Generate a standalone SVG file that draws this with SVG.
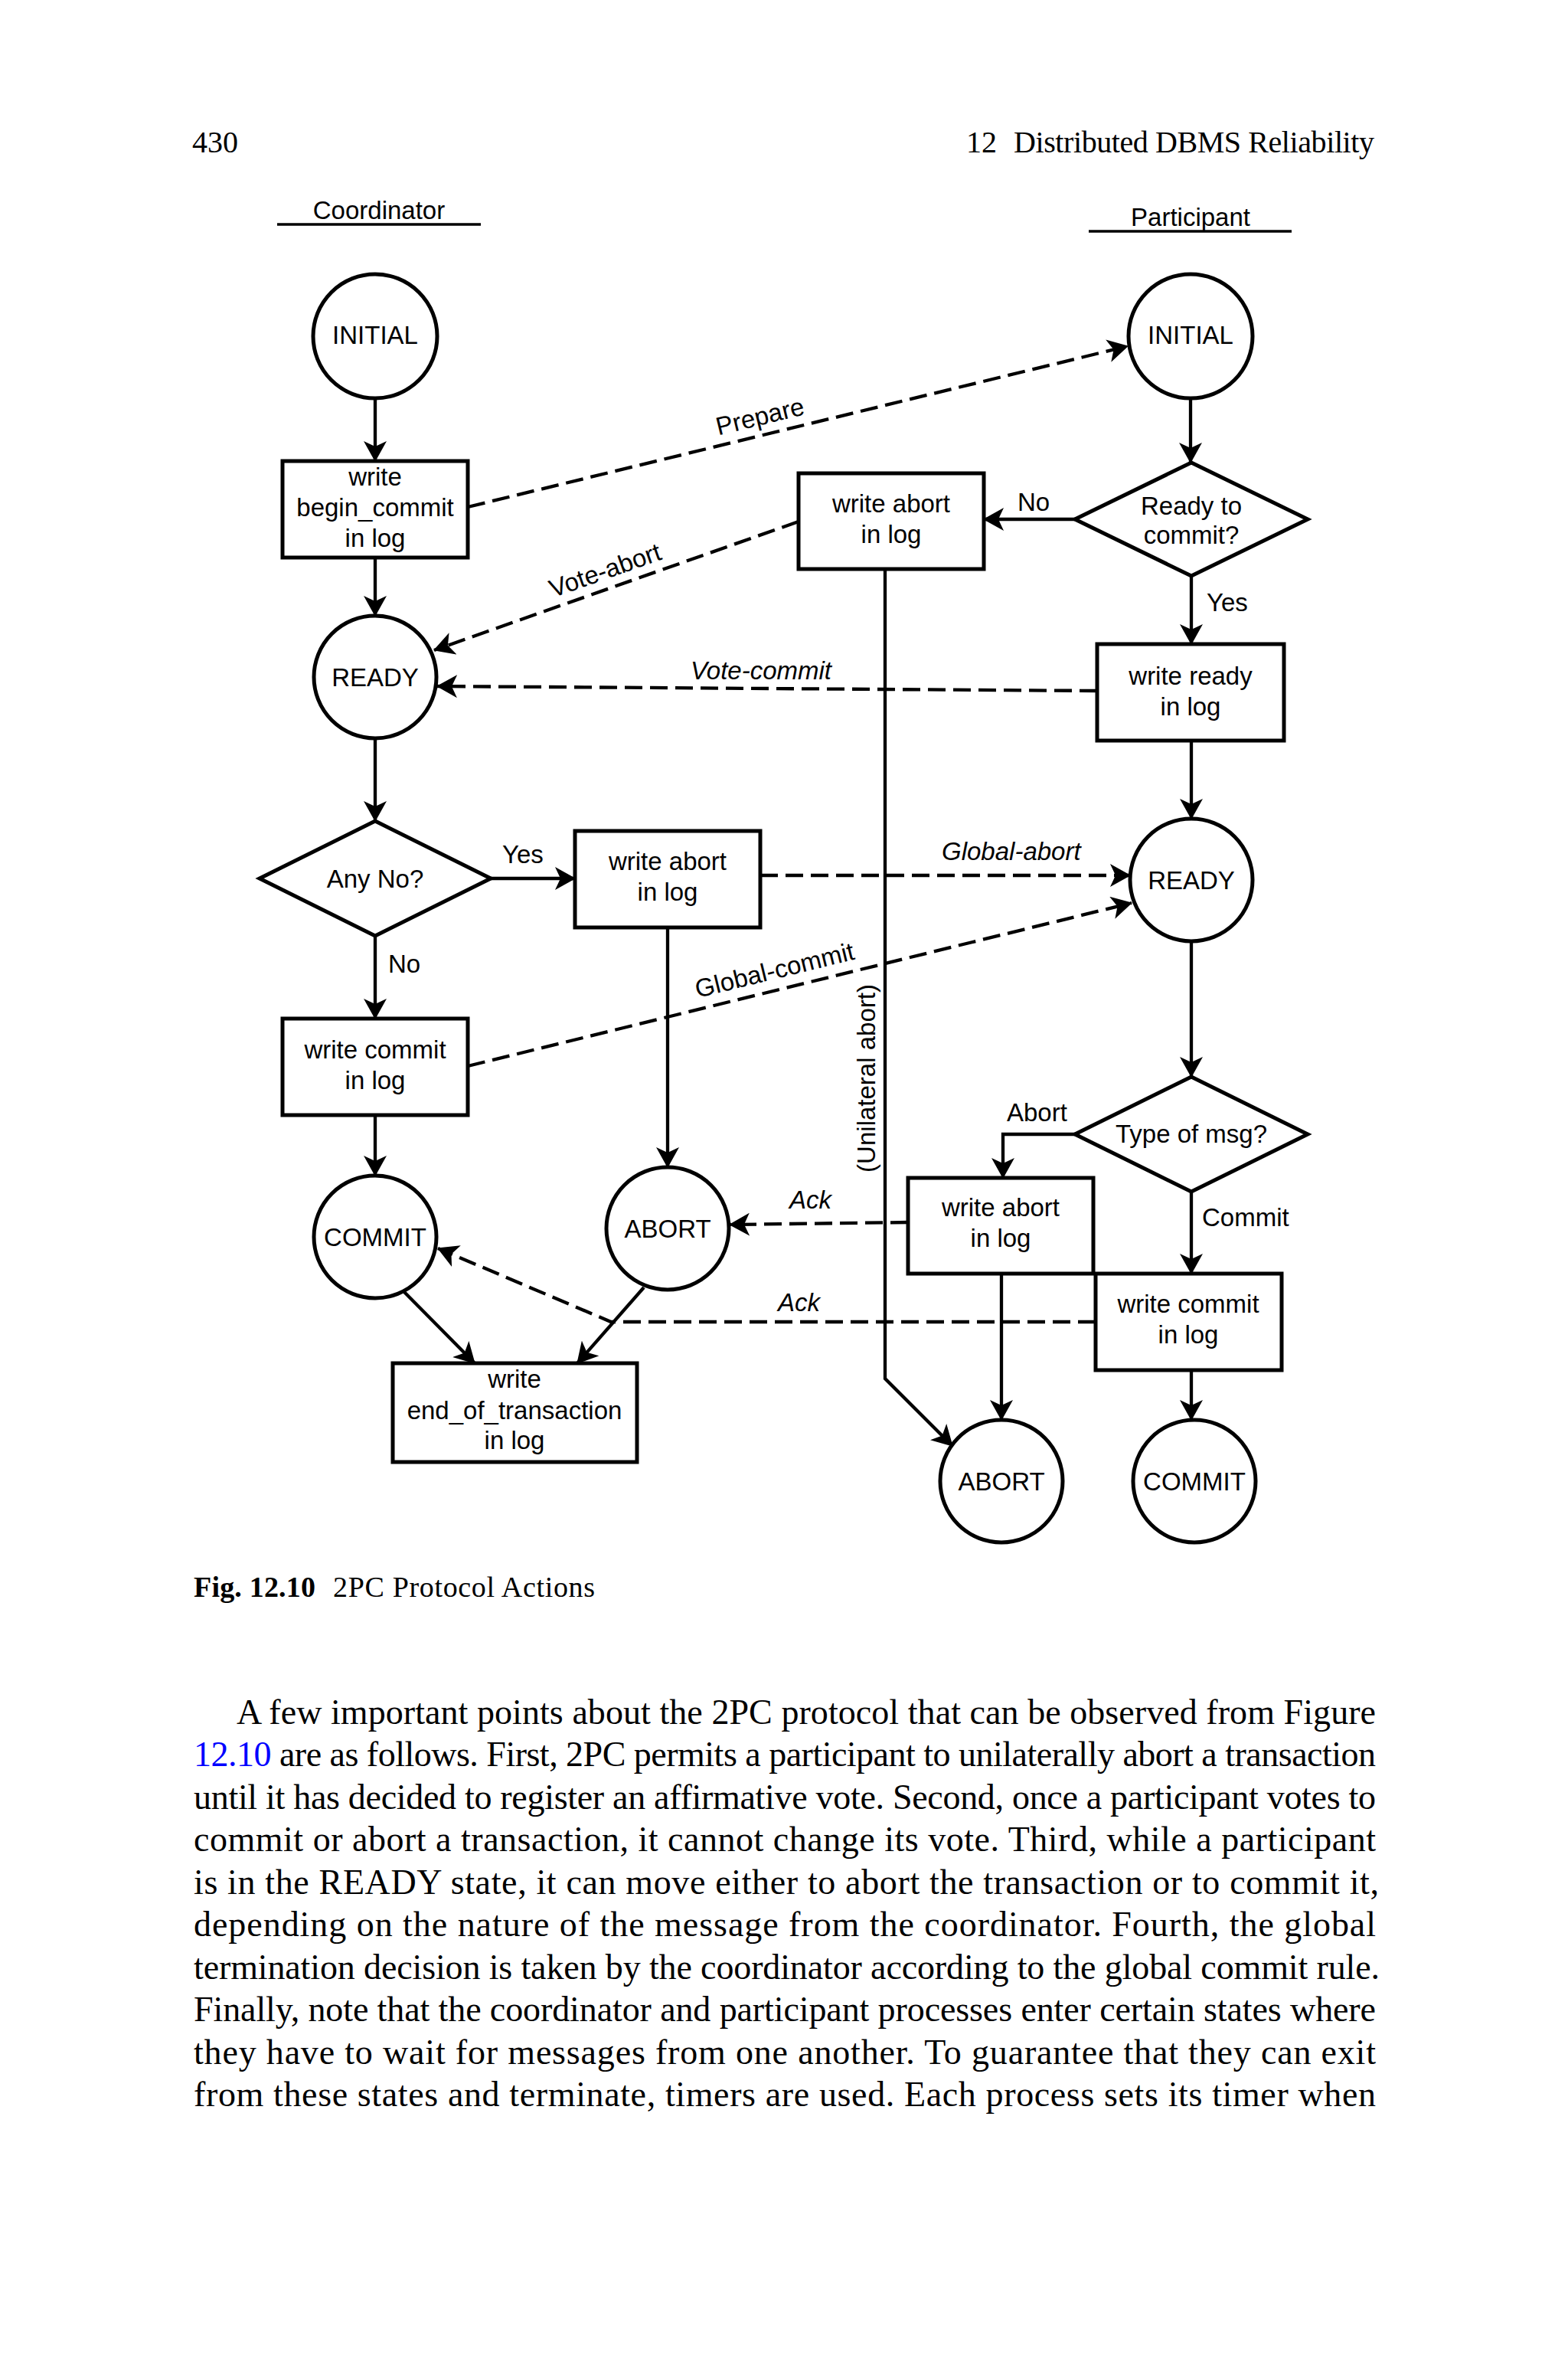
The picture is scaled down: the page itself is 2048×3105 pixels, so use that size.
<svg xmlns="http://www.w3.org/2000/svg" width="2048" height="3105" viewBox="0 0 2048 3105">
<style>
.shape{fill:#fff;stroke:#000;stroke-width:5}
.ln{fill:none;stroke:#000;stroke-width:4.3}
.dash{stroke-dasharray:23 10}
.t{font-family:"Liberation Sans",Arial,sans-serif;font-size:33px;fill:#000;text-anchor:middle}
.s{text-anchor:start}
.i{font-style:italic}
.serif{font-family:"Liberation Serif","Times New Roman",serif;fill:#000}
.body{font-size:46px}
</style>
<defs>
<marker id="ah" viewBox="0 0 27 30" refX="26" refY="15" markerWidth="27" markerHeight="30" markerUnits="userSpaceOnUse" orient="auto">
<path d="M27,15 L0,0 L7,15 L0,30 Z" fill="#000"/>
</marker>
</defs>
<rect width="2048" height="3105" fill="#fff"/>

<g id="page-header" class="serif" font-size="40">
<text x="251" y="199">430</text>
<text x="1262" y="199">12</text>
<text x="1324" y="199" textLength="471" lengthAdjust="spacing">Distributed DBMS Reliability</text>
</g>

<g id="lane-headers">
<text class="t" x="495" y="286">Coordinator</text>
<line x1="362" y1="293" x2="628" y2="293" stroke="#000" stroke-width="3.5"/>
<text class="t" x="1555" y="295">Participant</text>
<line x1="1422" y1="302" x2="1687" y2="302" stroke="#000" stroke-width="3.5"/>
</g>

<g id="n-coord-initial"><circle class="shape" cx="490" cy="439" r="81"/><text class="t" x="490" y="449">INITIAL</text></g>
<g id="n-begin-commit"><rect class="shape" x="369" y="602" width="242" height="126"/><text class="t" x="490" y="634">write</text><text class="t" x="490" y="674">begin_commit</text><text class="t" x="490" y="714">in log</text></g>
<g id="n-coord-ready"><circle class="shape" cx="490" cy="884" r="80"/><text class="t" x="490" y="896">READY</text></g>
<g id="n-any-no"><polygon class="shape" points="490,1072 641,1147 490,1222 339,1147"/><text class="t" x="490" y="1159">Any No?</text></g>
<g id="n-coord-write-abort"><rect class="shape" x="751" y="1085" width="242" height="126"/><text class="t" x="872" y="1136">write abort</text><text class="t" x="872" y="1176">in log</text></g>
<g id="n-coord-write-commit"><rect class="shape" x="369" y="1330" width="242" height="126"/><text class="t" x="490" y="1382">write commit</text><text class="t" x="490" y="1422">in log</text></g>
<g id="n-coord-commit"><circle class="shape" cx="490" cy="1615" r="80"/><text class="t" x="490" y="1627">COMMIT</text></g>
<g id="n-coord-abort"><circle class="shape" cx="872" cy="1604" r="80"/><text class="t" x="872" y="1616">ABORT</text></g>
<g id="n-end-of-transaction"><rect class="shape" x="513" y="1780" width="319" height="129"/><text class="t" x="672" y="1812">write</text><text class="t" x="672" y="1853">end_of_transaction</text><text class="t" x="672" y="1892">in log</text></g>

<g id="n-part-initial"><circle class="shape" cx="1555" cy="439" r="81"/><text class="t" x="1555" y="449">INITIAL</text></g>
<g id="n-ready-to-commit"><polygon class="shape" points="1556,604 1708,678 1556,752 1404,678"/><text class="t" x="1556" y="672">Ready to</text><text class="t" x="1556" y="710">commit?</text></g>
<g id="n-part-write-abort-1"><rect class="shape" x="1043" y="618" width="242" height="125"/><text class="t" x="1164" y="669">write abort</text><text class="t" x="1164" y="709">in log</text></g>
<g id="n-write-ready"><rect class="shape" x="1433" y="841" width="244" height="126"/><text class="t" x="1555" y="894">write ready</text><text class="t" x="1555" y="934">in log</text></g>
<g id="n-part-ready"><circle class="shape" cx="1556" cy="1149" r="80"/><text class="t" x="1556" y="1161">READY</text></g>
<g id="n-type-of-msg"><polygon class="shape" points="1556,1406 1708,1481 1556,1556 1404,1481"/><text class="t" x="1556" y="1492">Type of msg?</text></g>
<g id="n-part-write-abort-2"><rect class="shape" x="1186" y="1538" width="242" height="125"/><text class="t" x="1307" y="1588">write abort</text><text class="t" x="1307" y="1628">in log</text></g>
<g id="n-part-write-commit"><rect class="shape" x="1431" y="1663" width="243" height="126"/><text class="t" x="1552" y="1714">write commit</text><text class="t" x="1552" y="1754">in log</text></g>
<g id="n-part-abort"><circle class="shape" cx="1308" cy="1934" r="80"/><text class="t" x="1308" y="1946">ABORT</text></g>
<g id="n-part-commit"><circle class="shape" cx="1560" cy="1934" r="80"/><text class="t" x="1560" y="1946">COMMIT</text></g>

<g id="connectors">
<g class="ln" marker-end="url(#ah)">
<path d="M490,520 V602"/>
<path d="M490,728 V804"/>
<path d="M490,964 V1072"/>
<path d="M641,1147 H751"/>
<path d="M490,1222 V1330"/>
<path d="M490,1456 V1535"/>
<path d="M872,1211 V1524"/>
<path d="M528,1687 L620,1780"/>
<path d="M841,1681 L754,1780"/>
<path d="M1555,520 V604"/>
<path d="M1404,678 H1285"/>
<path d="M1556,752 V841"/>
<path d="M1556,967 V1069"/>
<path d="M1556,1229 V1406"/>
<path d="M1404,1481 H1310 V1538"/>
<path d="M1556,1556 V1663"/>
<path d="M1308,1663 V1854"/>
<path d="M1556,1789 V1854"/>
<path d="M1156,743 V1800 L1244,1888"/>
</g>
<g class="ln dash" marker-end="url(#ah)">
<path d="M611,662 L1473,452"/>
<path d="M1043,681 L567,849"/>
<path d="M1433,902 L571,896"/>
<path d="M993,1143 L1476,1143"/>
<path d="M611,1392 L1478,1179"/>
<path d="M1186,1596 L953,1599"/>
<path d="M1431,1726 L798,1726 L572,1630"/>
</g>
<text class="t s" x="656" y="1127">Yes</text>
<text class="t s" x="507" y="1270">No</text>
<text class="t s" x="1329" y="667">No</text>
<text class="t s" x="1576" y="798">Yes</text>
<text class="t s" x="1315" y="1464">Abort</text>
<text class="t s" x="1570" y="1601">Commit</text>
<text class="t" transform="translate(993,545) rotate(-13.7)" x="0" y="10">Prepare</text>
<text class="t" transform="translate(790,744) rotate(-19.4)" x="0" y="12">Vote-abort</text>
<text class="t s i" x="902" y="887">Vote-commit</text>
<text class="t s i" x="1230" y="1123">Global-abort</text>
<text class="t" transform="translate(1012,1268) rotate(-13.8)" x="0" y="10">Global-commit</text>
<text class="t s i" x="1031" y="1578">Ack</text>
<text class="t s i" x="1016" y="1712">Ack</text>
<text class="t" transform="translate(1143,1408) rotate(-90)" x="0" y="0">(Unilateral abort)</text>
</g>

<g id="caption" class="serif" font-size="38">
<text x="253" y="2085" font-weight="bold" textLength="159" lengthAdjust="spacing">Fig. 12.10</text>
<text x="435" y="2085" textLength="342" lengthAdjust="spacing">2PC Protocol Actions</text>
</g>

<g id="body-text" class="serif body">
<text x="309" y="2251" textLength="1488" lengthAdjust="spacing">A few important points about the 2PC protocol that can be observed from Figure</text>
<text x="253" y="2306" textLength="1544" lengthAdjust="spacing"><tspan fill="#0000ff">12.10</tspan> are as follows. First, 2PC permits a participant to unilaterally abort a transaction</text>
<text x="253" y="2362" textLength="1544" lengthAdjust="spacing">until it has decided to register an affirmative vote. Second, once a participant votes to</text>
<text x="253" y="2417" textLength="1544" lengthAdjust="spacing">commit or abort a transaction, it cannot change its vote. Third, while a participant</text>
<text x="253" y="2473" textLength="1548" lengthAdjust="spacing">is in the READY state, it can move either to abort the transaction or to commit it,</text>
<text x="253" y="2528" textLength="1544" lengthAdjust="spacing">depending on the nature of the message from the coordinator. Fourth, the global</text>
<text x="253" y="2584" textLength="1549" lengthAdjust="spacing">termination decision is taken by the coordinator according to the global commit rule.</text>
<text x="253" y="2639" textLength="1544" lengthAdjust="spacing">Finally, note that the coordinator and participant processes enter certain states where</text>
<text x="253" y="2695" textLength="1544" lengthAdjust="spacing">they have to wait for messages from one another. To guarantee that they can exit</text>
<text x="253" y="2750" textLength="1544" lengthAdjust="spacing">from these states and terminate, timers are used. Each process sets its timer when</text>
</g>
</svg>
